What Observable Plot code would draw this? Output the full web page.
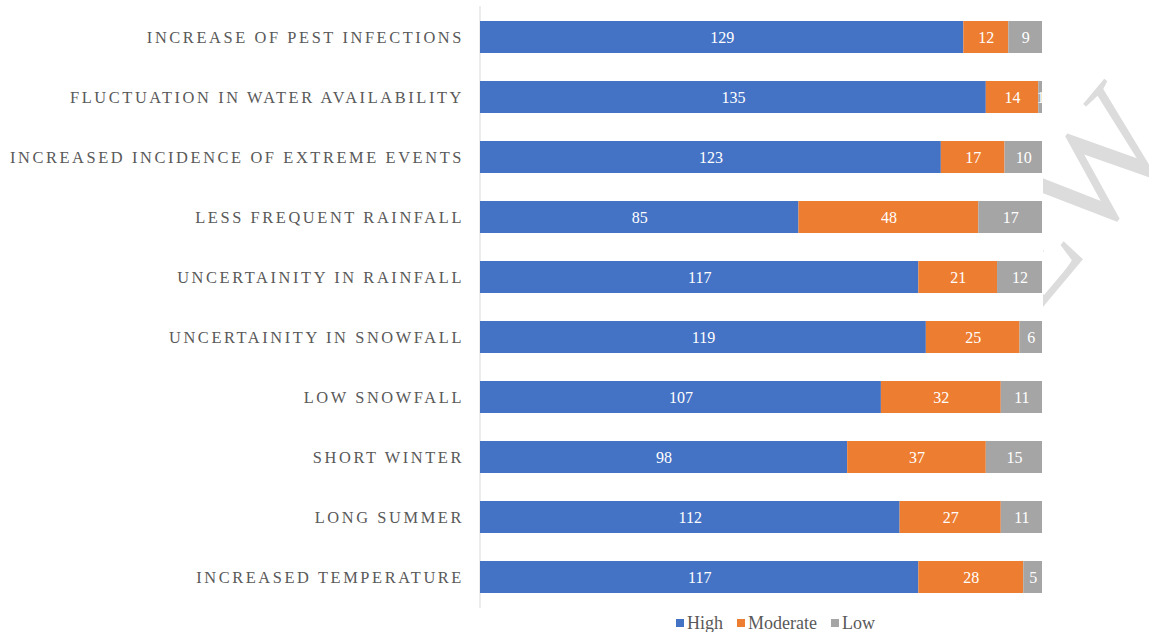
<!DOCTYPE html>
<html>
<head>
<meta charset="utf-8">
<script src="https://cdn.jsdelivr.net/npm/d3@7"></script>
<script src="https://cdn.jsdelivr.net/npm/@observablehq/plot@0.6"></script>
<style>
  body { margin: 0; background: #fff; font-family: "Liberation Serif", "Times New Roman", "DejaVu Serif", serif; }
  #wrap { position: relative; width: 1149px; height: 632px; overflow: hidden; }
  #legend { position: absolute; left: 676px; top: 613px; display: flex; align-items: center; font-size: 18px; color: #595959; line-height: 20px; white-space: nowrap; }
  #legend .item { display: flex; align-items: center; margin-right: 14px; }
  #legend .sw { width: 8px; height: 8px; margin-right: 3px; }
  svg text { font-family: "Liberation Serif", "Times New Roman", "DejaVu Serif", serif; }
</style>
</head>
<body>
<div id="wrap"></div>
<script>
const categories = [
  "INCREASE OF PEST INFECTIONS",
  "FLUCTUATION IN WATER AVAILABILITY",
  "INCREASED INCIDENCE OF EXTREME EVENTS",
  "LESS FREQUENT RAINFALL",
  "UNCERTAINITY IN RAINFALL",
  "UNCERTAINITY IN SNOWFALL",
  "LOW SNOWFALL",
  "SHORT WINTER",
  "LONG SUMMER",
  "INCREASED TEMPERATURE"
];
const high     = [129, 135, 123, 85, 117, 119, 107, 98, 112, 117];
const moderate = [12, 14, 17, 48, 21, 25, 32, 37, 27, 28];
const low      = [9, 1, 10, 17, 12, 6, 11, 15, 11, 5];
const levels = ["High", "Moderate", "Low"];
const colors = ["#4472C4", "#ED7D31", "#A5A5A5"];

const series = [high, moderate, low];
const data = [];
categories.forEach((c, i) => {
  levels.forEach((l, j) => data.push({cat: c, level: l, value: series[j][i]}));
});

const serif = '"Liberation Serif", "Times New Roman", "DejaVu Serif", serif';

const chart = Plot.plot({
  width: 1149,
  height: 612,
  marginLeft: 480,
  marginRight: 107,
  marginTop: 6,
  marginBottom: 4,
  style: {fontFamily: serif, background: "transparent"},
  x: {domain: [0, 150], axis: null},
  y: {domain: categories, paddingInner: 0.47, paddingOuter: 0.235, label: null},
  color: {domain: levels, range: colors},
  marks: [
    Plot.axisY({tickSize: 0, tickPadding: 16.5, fontSize: 16.4, fill: "#595959", label: null, fontFamily: serif}),
    Plot.ruleX([0], {stroke: "#d9d9d9", strokeWidth: 1, dx: -0.5}),
    Plot.barX(data, {y: "cat", x: "value", fill: "level", order: levels}),
    Plot.text(data, Plot.stackX({y: "cat", x: "value", z: "level", order: levels,
      text: d => String(d.value), fill: "white", fontSize: 16, fontFamily: serif}))
  ]
});
const svg = d3.select(chart);
svg.selectAll('g[aria-label="y-axis tick label"] text').attr("letter-spacing", "2.6px");

// faint diagonal watermark at the right edge (decoration, drawn behind the bars)
const defs = svg.insert("defs", ":first-child");
defs.append("clipPath").attr("id", "wmclip")
  .append("rect").attr("x", 1043).attr("y", 0).attr("width", 110).attr("height", 612);
const wm = svg.insert("g", "defs + *").attr("clip-path", "url(#wmclip)")
  .append("g").attr("transform", "translate(1012,188) rotate(-50)")
  .attr("fill", "#dcdcdc").attr("font-size", 152).attr("font-family", serif);
wm.append("text").attr("x", 0).attr("y", 100).attr("text-anchor", "end").text("E");
wm.append("text").attr("x", 0).attr("y", 100).attr("text-anchor", "start").text("W");

document.getElementById("wrap").appendChild(chart);

const legend = document.createElement("div");
legend.id = "legend";
levels.forEach((l, j) => {
  const it = document.createElement("span");
  it.className = "item";
  const sw = document.createElement("span");
  sw.className = "sw";
  sw.style.background = colors[j];
  const t = document.createElement("span");
  t.textContent = l;
  it.appendChild(sw); it.appendChild(t);
  legend.appendChild(it);
});
document.getElementById("wrap").appendChild(legend);
</script>
</body>
</html>
